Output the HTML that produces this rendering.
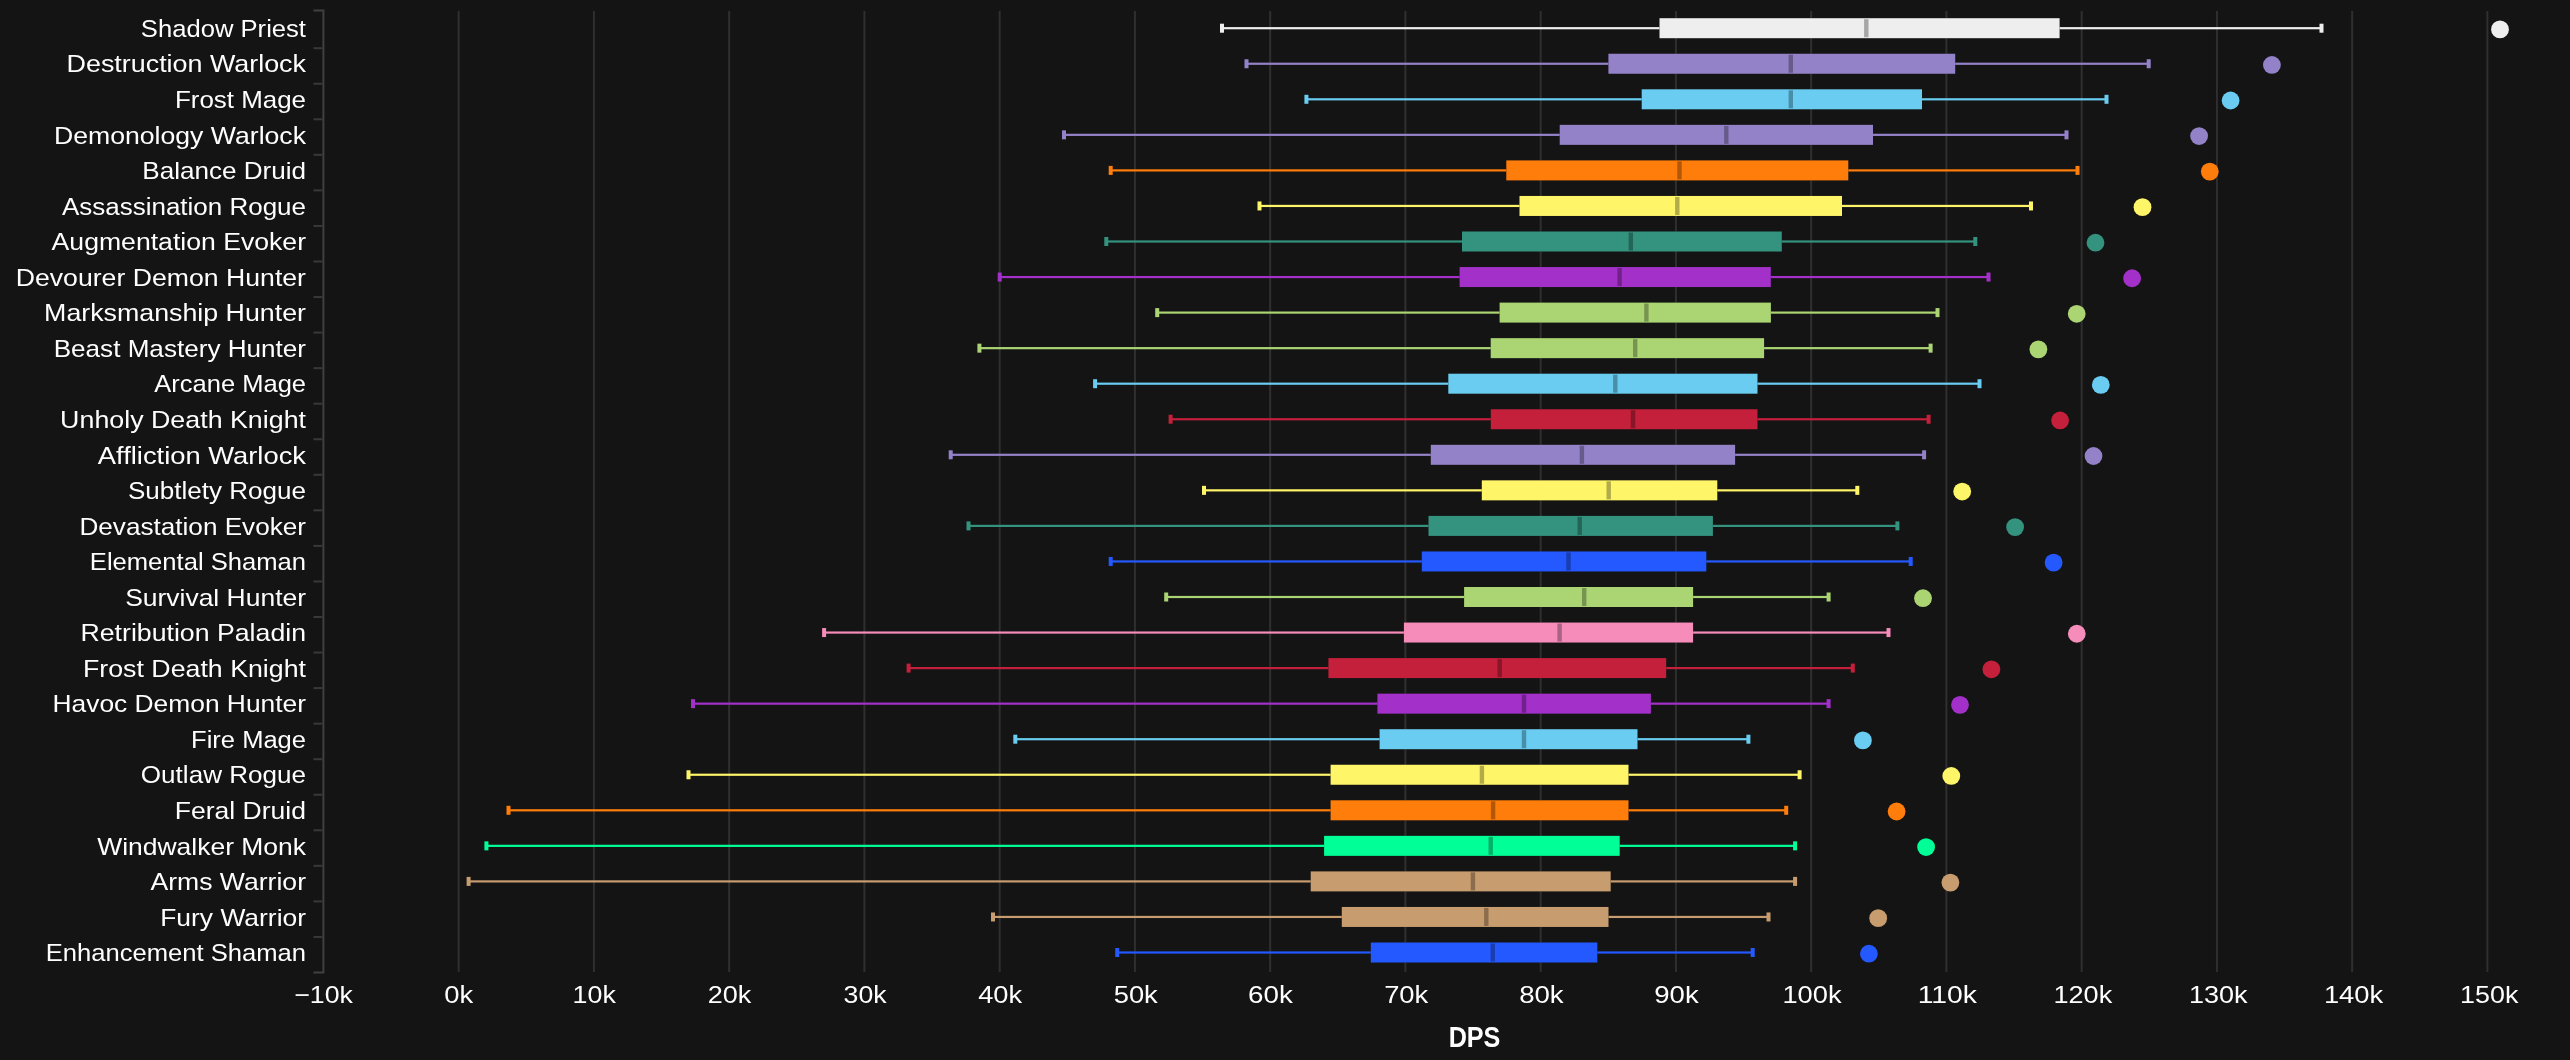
<!DOCTYPE html>
<html lang="en"><head><meta charset="utf-8"><title>DPS distribution by spec</title>
<style>
html,body{margin:0;padding:0;background:#141414;}
body{width:2570px;height:1060px;overflow:hidden;}
svg{display:block;will-change:transform;}
text{font-family:"Liberation Sans",sans-serif;fill:#ffffff;}
.yl{font-size:24px;text-anchor:end;}
.xl{font-size:24px;text-anchor:middle;}
.ttl{font-size:28.8px;font-weight:bold;text-anchor:middle;}
</style></head><body>
<svg width="2570" height="1060" viewBox="0 0 2570 1060">
<rect x="0" y="0" width="2570" height="1060" fill="#141414"/>
<g stroke="#2f2f2f" stroke-width="2">
<line x1="458.65" y1="11" x2="458.65" y2="972"/>
<line x1="593.9" y1="11" x2="593.9" y2="972"/>
<line x1="729.15" y1="11" x2="729.15" y2="972"/>
<line x1="864.4" y1="11" x2="864.4" y2="972"/>
<line x1="999.65" y1="11" x2="999.65" y2="972"/>
<line x1="1134.9" y1="11" x2="1134.9" y2="972"/>
<line x1="1270.15" y1="11" x2="1270.15" y2="972"/>
<line x1="1405.4" y1="11" x2="1405.4" y2="972"/>
<line x1="1540.65" y1="11" x2="1540.65" y2="972"/>
<line x1="1675.9" y1="11" x2="1675.9" y2="972"/>
<line x1="1811.15" y1="11" x2="1811.15" y2="972"/>
<line x1="1946.4" y1="11" x2="1946.4" y2="972"/>
<line x1="2081.65" y1="11" x2="2081.65" y2="972"/>
<line x1="2216.9" y1="11" x2="2216.9" y2="972"/>
<line x1="2352.15" y1="11" x2="2352.15" y2="972"/>
<line x1="2487.4" y1="11" x2="2487.4" y2="972"/>
</g>
<g stroke="#404040" stroke-width="2" fill="none">
<path d="M313.5,10.4H323.4V972.5H313.5"/>
<line x1="313.5" y1="936.95" x2="322.4" y2="936.95" stroke="#383838"/>
<line x1="313.5" y1="901.4" x2="322.4" y2="901.4" stroke="#383838"/>
<line x1="313.5" y1="865.85" x2="322.4" y2="865.85" stroke="#383838"/>
<line x1="313.5" y1="830.3" x2="322.4" y2="830.3" stroke="#383838"/>
<line x1="313.5" y1="794.75" x2="322.4" y2="794.75" stroke="#383838"/>
<line x1="313.5" y1="759.2" x2="322.4" y2="759.2" stroke="#383838"/>
<line x1="313.5" y1="723.65" x2="322.4" y2="723.65" stroke="#383838"/>
<line x1="313.5" y1="688.1" x2="322.4" y2="688.1" stroke="#383838"/>
<line x1="313.5" y1="652.55" x2="322.4" y2="652.55" stroke="#383838"/>
<line x1="313.5" y1="617" x2="322.4" y2="617" stroke="#383838"/>
<line x1="313.5" y1="581.45" x2="322.4" y2="581.45" stroke="#383838"/>
<line x1="313.5" y1="545.9" x2="322.4" y2="545.9" stroke="#383838"/>
<line x1="313.5" y1="510.35" x2="322.4" y2="510.35" stroke="#383838"/>
<line x1="313.5" y1="474.8" x2="322.4" y2="474.8" stroke="#383838"/>
<line x1="313.5" y1="439.25" x2="322.4" y2="439.25" stroke="#383838"/>
<line x1="313.5" y1="403.7" x2="322.4" y2="403.7" stroke="#383838"/>
<line x1="313.5" y1="368.15" x2="322.4" y2="368.15" stroke="#383838"/>
<line x1="313.5" y1="332.6" x2="322.4" y2="332.6" stroke="#383838"/>
<line x1="313.5" y1="297.05" x2="322.4" y2="297.05" stroke="#383838"/>
<line x1="313.5" y1="261.5" x2="322.4" y2="261.5" stroke="#383838"/>
<line x1="313.5" y1="225.95" x2="322.4" y2="225.95" stroke="#383838"/>
<line x1="313.5" y1="190.4" x2="322.4" y2="190.4" stroke="#383838"/>
<line x1="313.5" y1="154.85" x2="322.4" y2="154.85" stroke="#383838"/>
<line x1="313.5" y1="119.3" x2="322.4" y2="119.3" stroke="#383838"/>
<line x1="313.5" y1="83.75" x2="322.4" y2="83.75" stroke="#383838"/>
<line x1="313.5" y1="48.2" x2="322.4" y2="48.2" stroke="#383838"/>
</g>
<g>
<text class="yl" transform="translate(306,36.9) scale(1.0675,1)">Shadow Priest</text>
<text class="yl" transform="translate(306,72.45) scale(1.1207,1)">Destruction Warlock</text>
<text class="yl" transform="translate(306,108) scale(1.0804,1)">Frost Mage</text>
<text class="yl" transform="translate(306,143.55) scale(1.1099,1)">Demonology Warlock</text>
<text class="yl" transform="translate(306,179.1) scale(1.0866,1)">Balance Druid</text>
<text class="yl" transform="translate(306,214.65) scale(1.0833,1)">Assassination Rogue</text>
<text class="yl" transform="translate(306,250.2) scale(1.1096,1)">Augmentation Evoker</text>
<text class="yl" transform="translate(306,285.75) scale(1.1105,1)">Devourer Demon Hunter</text>
<text class="yl" transform="translate(306,321.3) scale(1.1160,1)">Marksmanship Hunter</text>
<text class="yl" transform="translate(306,356.85) scale(1.0877,1)">Beast Mastery Hunter</text>
<text class="yl" transform="translate(306,392.4) scale(1.0628,1)">Arcane Mage</text>
<text class="yl" transform="translate(306,427.95) scale(1.1173,1)">Unholy Death Knight</text>
<text class="yl" transform="translate(306,463.5) scale(1.1397,1)">Affliction Warlock</text>
<text class="yl" transform="translate(306,499.05) scale(1.0852,1)">Subtlety Rogue</text>
<text class="yl" transform="translate(306,534.6) scale(1.0896,1)">Devastation Evoker</text>
<text class="yl" transform="translate(306,570.15) scale(1.0669,1)">Elemental Shaman</text>
<text class="yl" transform="translate(306,605.7) scale(1.1030,1)">Survival Hunter</text>
<text class="yl" transform="translate(306,641.25) scale(1.1124,1)">Retribution Paladin</text>
<text class="yl" transform="translate(306,676.8) scale(1.1151,1)">Frost Death Knight</text>
<text class="yl" transform="translate(306,712.35) scale(1.0988,1)">Havoc Demon Hunter</text>
<text class="yl" transform="translate(306,747.9) scale(1.0647,1)">Fire Mage</text>
<text class="yl" transform="translate(306,783.45) scale(1.0861,1)">Outlaw Rogue</text>
<text class="yl" transform="translate(306,819) scale(1.1064,1)">Feral Druid</text>
<text class="yl" transform="translate(306,854.55) scale(1.1029,1)">Windwalker Monk</text>
<text class="yl" transform="translate(306,890.1) scale(1.1082,1)">Arms Warrior</text>
<text class="yl" transform="translate(306,925.65) scale(1.1011,1)">Fury Warrior</text>
<text class="yl" transform="translate(306,961.2) scale(1.0672,1)">Enhancement Shaman</text>
</g>
<g>
<text class="xl" transform="translate(323.52,1002.9) scale(1.1136,1)">−10k</text>
<text class="xl" transform="translate(458.76,1002.9) scale(1.1425,1)">0k</text>
<text class="xl" transform="translate(594.2,1002.9) scale(1.1167,1)">10k</text>
<text class="xl" transform="translate(729.59,1002.9) scale(1.1271,1)">20k</text>
<text class="xl" transform="translate(865.06,1002.9) scale(1.1119,1)">30k</text>
<text class="xl" transform="translate(1000.18,1002.9) scale(1.1370,1)">40k</text>
<text class="xl" transform="translate(1135.75,1002.9) scale(1.1391,1)">50k</text>
<text class="xl" transform="translate(1270.38,1002.9) scale(1.1582,1)">60k</text>
<text class="xl" transform="translate(1406.23,1002.9) scale(1.1415,1)">70k</text>
<text class="xl" transform="translate(1541.4,1002.9) scale(1.1499,1)">80k</text>
<text class="xl" transform="translate(1676.46,1002.9) scale(1.1470,1)">90k</text>
<text class="xl" transform="translate(1811.99,1002.9) scale(1.1351,1)">100k</text>
<text class="xl" transform="translate(1947.33,1002.9) scale(1.1800,1)">110k</text>
<text class="xl" transform="translate(2082.82,1002.9) scale(1.1292,1)">120k</text>
<text class="xl" transform="translate(2218.34,1002.9) scale(1.1256,1)">130k</text>
<text class="xl" transform="translate(2353.53,1002.9) scale(1.1395,1)">140k</text>
<text class="xl" transform="translate(2489.22,1002.9) scale(1.1197,1)">150k</text>
</g>
<text class="ttl" transform="translate(1474.5,1046.8) scale(0.8732,1)">DPS</text>
<g fill="#eeeeee" stroke="none">
<rect x="1222" y="27.1" width="1099.5" height="2.2" opacity="1"/>
<rect x="1220" y="23.7" width="4" height="9"/>
<rect x="2319.5" y="23.7" width="4" height="9"/>
<rect x="1659.5" y="18.2" width="400.1" height="20" fill="#141414"/>
<rect x="1659.5" y="18.2" width="400.1" height="20" opacity="1"/>
<rect x="1864.1" y="19.2" width="4.4" height="18" fill="#a6a6a6"/>
<circle cx="2500" cy="29.4" r="8.9" opacity="1"/>
</g>
<g fill="#9482c9" stroke="none">
<rect x="1246.5" y="62.65" width="902.2" height="2.2" opacity="1"/>
<rect x="1244.5" y="59.25" width="4" height="9"/>
<rect x="2146.7" y="59.25" width="4" height="9"/>
<rect x="1608.4" y="53.75" width="346.8" height="20" fill="#141414"/>
<rect x="1608.4" y="53.75" width="346.8" height="20" opacity="1"/>
<rect x="1788.6" y="54.75" width="4.4" height="18" fill="#675b8c"/>
<circle cx="2271.9" cy="64.95" r="8.9" opacity="1"/>
</g>
<g fill="#69ccf0" stroke="none">
<rect x="1306.4" y="98.2" width="800.1" height="2.2" opacity="1"/>
<rect x="1304.4" y="94.8" width="4" height="9"/>
<rect x="2104.5" y="94.8" width="4" height="9"/>
<rect x="1641.7" y="89.3" width="280.3" height="20" fill="#141414"/>
<rect x="1641.7" y="89.3" width="280.3" height="20" opacity="1"/>
<rect x="1788.6" y="90.3" width="4.4" height="18" fill="#498ea8"/>
<circle cx="2230.6" cy="100.5" r="8.9" opacity="1"/>
</g>
<g fill="#9482c9" stroke="none">
<rect x="1064" y="133.75" width="1002.5" height="2.2" opacity="1"/>
<rect x="1062" y="130.35" width="4" height="9"/>
<rect x="2064.5" y="130.35" width="4" height="9"/>
<rect x="1559.7" y="124.85" width="313.3" height="20" fill="#141414"/>
<rect x="1559.7" y="124.85" width="313.3" height="20" opacity="1"/>
<rect x="1724.1" y="125.85" width="4.4" height="18" fill="#675b8c"/>
<circle cx="2199.1" cy="136.05" r="8.9" opacity="1"/>
</g>
<g fill="#ff7d0a" stroke="none">
<rect x="1110.7" y="169.3" width="966.8" height="2.2" opacity="1"/>
<rect x="1108.7" y="165.9" width="4" height="9"/>
<rect x="2075.5" y="165.9" width="4" height="9"/>
<rect x="1506.3" y="160.4" width="342" height="20" fill="#141414"/>
<rect x="1506.3" y="160.4" width="342" height="20" opacity="1"/>
<rect x="1677.3" y="161.4" width="4.4" height="18" fill="#b25707"/>
<circle cx="2209.8" cy="171.6" r="8.9" opacity="1"/>
</g>
<g fill="#fff569" stroke="none">
<rect x="1259.5" y="204.85" width="771.5" height="2.2" opacity="1"/>
<rect x="1257.5" y="201.45" width="4" height="9"/>
<rect x="2029" y="201.45" width="4" height="9"/>
<rect x="1519.5" y="195.95" width="322.5" height="20" fill="#141414"/>
<rect x="1519.5" y="195.95" width="322.5" height="20" opacity="1"/>
<rect x="1675.1" y="196.95" width="4.4" height="18" fill="#b2ab49"/>
<circle cx="2142.5" cy="207.15" r="8.9" opacity="1"/>
</g>
<g fill="#33937f" stroke="none">
<rect x="1106.3" y="240.4" width="869" height="2.2" opacity="1"/>
<rect x="1104.3" y="237" width="4" height="9"/>
<rect x="1973.3" y="237" width="4" height="9"/>
<rect x="1462" y="231.5" width="319.8" height="20" fill="#141414"/>
<rect x="1462" y="231.5" width="319.8" height="20" opacity="1"/>
<rect x="1628.6" y="232.5" width="4.4" height="18" fill="#236658"/>
<circle cx="2095.5" cy="242.7" r="8.9" opacity="1"/>
</g>
<g fill="#a330c9" stroke="none">
<rect x="999.7" y="275.95" width="988.8" height="2.2" opacity="1"/>
<rect x="997.7" y="272.55" width="4" height="9"/>
<rect x="1986.5" y="272.55" width="4" height="9"/>
<rect x="1459.6" y="267.05" width="311.2" height="20" fill="#141414"/>
<rect x="1459.6" y="267.05" width="311.2" height="20" opacity="1"/>
<rect x="1617.4" y="268.05" width="4.4" height="18" fill="#72218c"/>
<circle cx="2132.1" cy="278.25" r="8.9" opacity="1"/>
</g>
<g fill="#abd473" stroke="none">
<rect x="1157.2" y="311.5" width="780.3" height="2.2" opacity="1"/>
<rect x="1155.2" y="308.1" width="4" height="9"/>
<rect x="1935.5" y="308.1" width="4" height="9"/>
<rect x="1499.6" y="302.6" width="271.3" height="20" fill="#141414"/>
<rect x="1499.6" y="302.6" width="271.3" height="20" opacity="1"/>
<rect x="1644.2" y="303.6" width="4.4" height="18" fill="#779450"/>
<circle cx="2076.7" cy="313.8" r="8.9" opacity="1"/>
</g>
<g fill="#abd473" stroke="none">
<rect x="979.4" y="347.05" width="951.2" height="2.2" opacity="1"/>
<rect x="977.4" y="343.65" width="4" height="9"/>
<rect x="1928.6" y="343.65" width="4" height="9"/>
<rect x="1490.7" y="338.15" width="273.4" height="20" fill="#141414"/>
<rect x="1490.7" y="338.15" width="273.4" height="20" opacity="1"/>
<rect x="1633" y="339.15" width="4.4" height="18" fill="#779450"/>
<circle cx="2038.4" cy="349.35" r="8.9" opacity="1"/>
</g>
<g fill="#69ccf0" stroke="none">
<rect x="1095.1" y="382.6" width="884.4" height="2.2" opacity="1"/>
<rect x="1093.1" y="379.2" width="4" height="9"/>
<rect x="1977.5" y="379.2" width="4" height="9"/>
<rect x="1448.3" y="373.7" width="309.2" height="20" fill="#141414"/>
<rect x="1448.3" y="373.7" width="309.2" height="20" opacity="1"/>
<rect x="1613.1" y="374.7" width="4.4" height="18" fill="#498ea8"/>
<circle cx="2100.8" cy="384.9" r="8.9" opacity="1"/>
</g>
<g fill="#c41f3b" stroke="none">
<rect x="1170.6" y="418.15" width="758" height="2.2" opacity="1"/>
<rect x="1168.6" y="414.75" width="4" height="9"/>
<rect x="1926.6" y="414.75" width="4" height="9"/>
<rect x="1490.8" y="409.25" width="266.7" height="20" fill="#141414"/>
<rect x="1490.8" y="409.25" width="266.7" height="20" opacity="1"/>
<rect x="1630.8" y="410.25" width="4.4" height="18" fill="#891529"/>
<circle cx="2060.1" cy="420.45" r="8.9" opacity="1"/>
</g>
<g fill="#9482c9" stroke="none">
<rect x="950.7" y="453.7" width="973.4" height="2.2" opacity="1"/>
<rect x="948.7" y="450.3" width="4" height="9"/>
<rect x="1922.1" y="450.3" width="4" height="9"/>
<rect x="1430.8" y="444.8" width="304.3" height="20" fill="#141414"/>
<rect x="1430.8" y="444.8" width="304.3" height="20" opacity="1"/>
<rect x="1579.7" y="445.8" width="4.4" height="18" fill="#675b8c"/>
<circle cx="2093.5" cy="456" r="8.9" opacity="1"/>
</g>
<g fill="#fff569" stroke="none">
<rect x="1204" y="489.25" width="653.3" height="2.2" opacity="1"/>
<rect x="1202" y="485.85" width="4" height="9"/>
<rect x="1855.3" y="485.85" width="4" height="9"/>
<rect x="1481.8" y="480.35" width="235.5" height="20" fill="#141414"/>
<rect x="1481.8" y="480.35" width="235.5" height="20" opacity="1"/>
<rect x="1606.5" y="481.35" width="4.4" height="18" fill="#b2ab49"/>
<circle cx="1962.2" cy="491.55" r="8.9" opacity="1"/>
</g>
<g fill="#33937f" stroke="none">
<rect x="968.5" y="524.8" width="928.9" height="2.2" opacity="1"/>
<rect x="966.5" y="521.4" width="4" height="9"/>
<rect x="1895.4" y="521.4" width="4" height="9"/>
<rect x="1428.5" y="515.9" width="284.4" height="20" fill="#141414"/>
<rect x="1428.5" y="515.9" width="284.4" height="20" opacity="1"/>
<rect x="1577.5" y="516.9" width="4.4" height="18" fill="#236658"/>
<circle cx="2015.1" cy="527.1" r="8.9" opacity="1"/>
</g>
<g fill="#2459ff" stroke="none">
<rect x="1110.7" y="560.35" width="800" height="2.2" opacity="1"/>
<rect x="1108.7" y="556.95" width="4" height="9"/>
<rect x="1908.7" y="556.95" width="4" height="9"/>
<rect x="1421.8" y="551.45" width="284.5" height="20" fill="#141414"/>
<rect x="1421.8" y="551.45" width="284.5" height="20" opacity="1"/>
<rect x="1566.3" y="552.45" width="4.4" height="18" fill="#193eb2"/>
<circle cx="2053.6" cy="562.65" r="8.9" opacity="1"/>
</g>
<g fill="#abd473" stroke="none">
<rect x="1166.2" y="595.9" width="662.4" height="2.2" opacity="1"/>
<rect x="1164.2" y="592.5" width="4" height="9"/>
<rect x="1826.6" y="592.5" width="4" height="9"/>
<rect x="1464.1" y="587" width="229" height="20" fill="#141414"/>
<rect x="1464.1" y="587" width="229" height="20" opacity="1"/>
<rect x="1582" y="588" width="4.4" height="18" fill="#779450"/>
<circle cx="1923" cy="598.2" r="8.9" opacity="1"/>
</g>
<g fill="#f58cba" stroke="none">
<rect x="824.1" y="631.45" width="1064.4" height="2.2" opacity="1"/>
<rect x="822.1" y="628.05" width="4" height="9"/>
<rect x="1886.5" y="628.05" width="4" height="9"/>
<rect x="1403.9" y="622.55" width="289.2" height="20" fill="#141414"/>
<rect x="1403.9" y="622.55" width="289.2" height="20" opacity="1"/>
<rect x="1557.4" y="623.55" width="4.4" height="18" fill="#ab6282"/>
<circle cx="2076.8" cy="633.75" r="8.9" opacity="1"/>
</g>
<g fill="#c41f3b" stroke="none">
<rect x="908.6" y="667" width="944.2" height="2.2" opacity="1"/>
<rect x="906.6" y="663.6" width="4" height="9"/>
<rect x="1850.8" y="663.6" width="4" height="9"/>
<rect x="1328.4" y="658.1" width="337.8" height="20" fill="#141414"/>
<rect x="1328.4" y="658.1" width="337.8" height="20" opacity="1"/>
<rect x="1497.5" y="659.1" width="4.4" height="18" fill="#891529"/>
<circle cx="1991.4" cy="669.3" r="8.9" opacity="1"/>
</g>
<g fill="#a330c9" stroke="none">
<rect x="693" y="702.55" width="1135.6" height="2.2" opacity="1"/>
<rect x="691" y="699.15" width="4" height="9"/>
<rect x="1826.6" y="699.15" width="4" height="9"/>
<rect x="1377.4" y="693.65" width="273.5" height="20" fill="#141414"/>
<rect x="1377.4" y="693.65" width="273.5" height="20" opacity="1"/>
<rect x="1521.8" y="694.65" width="4.4" height="18" fill="#72218c"/>
<circle cx="1960" cy="704.85" r="8.9" opacity="1"/>
</g>
<g fill="#69ccf0" stroke="none">
<rect x="1015.3" y="738.1" width="733.1" height="2.2" opacity="1"/>
<rect x="1013.3" y="734.7" width="4" height="9"/>
<rect x="1746.4" y="734.7" width="4" height="9"/>
<rect x="1379.6" y="729.2" width="257.9" height="20" fill="#141414"/>
<rect x="1379.6" y="729.2" width="257.9" height="20" opacity="1"/>
<rect x="1521.8" y="730.2" width="4.4" height="18" fill="#498ea8"/>
<circle cx="1862.9" cy="740.4" r="8.9" opacity="1"/>
</g>
<g fill="#fff569" stroke="none">
<rect x="688.5" y="773.65" width="1111.1" height="2.2" opacity="1"/>
<rect x="686.5" y="770.25" width="4" height="9"/>
<rect x="1797.6" y="770.25" width="4" height="9"/>
<rect x="1330.6" y="764.75" width="297.9" height="20" fill="#141414"/>
<rect x="1330.6" y="764.75" width="297.9" height="20" opacity="1"/>
<rect x="1479.7" y="765.75" width="4.4" height="18" fill="#b2ab49"/>
<circle cx="1951.3" cy="775.95" r="8.9" opacity="1"/>
</g>
<g fill="#ff7d0a" stroke="none">
<rect x="508.5" y="809.2" width="1277.7" height="2.2" opacity="1"/>
<rect x="506.5" y="805.8" width="4" height="9"/>
<rect x="1784.2" y="805.8" width="4" height="9"/>
<rect x="1330.6" y="800.3" width="297.9" height="20" fill="#141414"/>
<rect x="1330.6" y="800.3" width="297.9" height="20" opacity="1"/>
<rect x="1490.9" y="801.3" width="4.4" height="18" fill="#b25707"/>
<circle cx="1896.6" cy="811.5" r="8.9" opacity="1"/>
</g>
<g fill="#00ff96" stroke="none">
<rect x="486.4" y="844.75" width="1308.7" height="2.2" opacity="1"/>
<rect x="484.4" y="841.35" width="4" height="9"/>
<rect x="1793.1" y="841.35" width="4" height="9"/>
<rect x="1324.1" y="835.85" width="295.6" height="20" fill="#141414"/>
<rect x="1324.1" y="835.85" width="295.6" height="20" opacity="1"/>
<rect x="1488.5" y="836.85" width="4.4" height="18" fill="#00b269"/>
<circle cx="1926.1" cy="847.05" r="8.9" opacity="1"/>
</g>
<g fill="#c79c6e" stroke="none">
<rect x="468.6" y="880.3" width="1326.5" height="2.2" opacity="1"/>
<rect x="466.6" y="876.9" width="4" height="9"/>
<rect x="1793.1" y="876.9" width="4" height="9"/>
<rect x="1310.7" y="871.4" width="300" height="20" fill="#141414"/>
<rect x="1310.7" y="871.4" width="300" height="20" opacity="1"/>
<rect x="1470.7" y="872.4" width="4.4" height="18" fill="#8b6d4d"/>
<circle cx="1950.4" cy="882.6" r="8.9" opacity="1"/>
</g>
<g fill="#c79c6e" stroke="none">
<rect x="993" y="915.85" width="775.5" height="2.2" opacity="1"/>
<rect x="991" y="912.45" width="4" height="9"/>
<rect x="1766.5" y="912.45" width="4" height="9"/>
<rect x="1341.8" y="906.95" width="266.7" height="20" fill="#141414"/>
<rect x="1341.8" y="906.95" width="266.7" height="20" opacity="1"/>
<rect x="1484.1" y="907.95" width="4.4" height="18" fill="#8b6d4d"/>
<circle cx="1878.2" cy="918.15" r="8.9" opacity="1"/>
</g>
<g fill="#2459ff" stroke="none">
<rect x="1117.2" y="951.4" width="635.5" height="2.2" opacity="1"/>
<rect x="1115.2" y="948" width="4" height="9"/>
<rect x="1750.7" y="948" width="4" height="9"/>
<rect x="1370.8" y="942.5" width="226.5" height="20" fill="#141414"/>
<rect x="1370.8" y="942.5" width="226.5" height="20" opacity="1"/>
<rect x="1490.6" y="943.5" width="4.4" height="18" fill="#193eb2"/>
<circle cx="1868.9" cy="953.7" r="8.9" opacity="1"/>
</g>
</svg></body></html>
